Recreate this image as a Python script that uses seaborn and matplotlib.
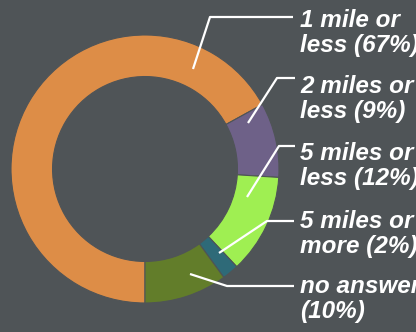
import seaborn as sns
import matplotlib.pyplot as plt

# survey answers, clockwise from the bottom of the ring
labels = ["1 mile or\nless (67%)", "2 miles or\nless (9%)", "5 miles or\nless (12%)",
          "5 miles or\nmore (2%)", "no answer\n(10%)"]
shares = [67, 9, 12, 2, 10]
colors = ["#DD8D47", "#6E6188", "#9FEF52", "#2E6A78", "#627D2A"]

BG = "#4F5457"
PX = 134.0          # pixels per data unit (ring radius)
CX, CY = 145, 169   # ring centre in pixels


def to_data(px, py):
    return (px - CX) / PX, (CY - py) / PX


# leader lines: (point on ring, elbow, end near text), in pixels
leaders = [
    ((193, 69), (210, 17), (293, 17)),
    ((248, 123), (277, 78), (295, 78)),
    ((247, 197), (279, 146), (295, 146)),
    ((219, 253), (267, 221), (294, 221)),
    ((190, 274), (227, 286), (294, 286)),
]
text_y = [33, 99, 166, 234, 299]


def main():
    sns.set_theme(style="dark", rc={"figure.facecolor": BG, "axes.facecolor": BG})
    plt.rcParams["font.family"] = ["Liberation Sans", "DejaVu Sans"]

    fig = plt.figure(figsize=(4.16, 3.32), dpi=100)
    ax = fig.add_axes([0, 0, 1, 1])
    ax.set_facecolor(BG)

    ax.pie(shares, colors=colors, startangle=-90, counterclock=False, radius=1,
           wedgeprops=dict(width=0.31, edgecolor=BG, linewidth=0.8))

    for (p0, p1, p2), lab, ty in zip(leaders, labels, text_y):
        xs, ys = zip(*[to_data(*p) for p in (p0, p1, p2)])
        ax.plot(xs, ys, color="white", lw=1.6, solid_capstyle="butt")
        tx, tyd = to_data(300, ty)
        ax.text(tx, tyd, lab, color="white", fontsize=17.5, fontweight="bold",
                fontstyle="italic", ha="left", va="center", linespacing=1.1)

    ax.set_xlim(-CX / PX, (416 - CX) / PX)
    ax.set_ylim((CY - 332) / PX, CY / PX)
    ax.set_aspect("equal")
    ax.axis("off")

    fig.savefig("out.png", dpi=100, facecolor=BG)


if __name__ == "__main__":
    main()
